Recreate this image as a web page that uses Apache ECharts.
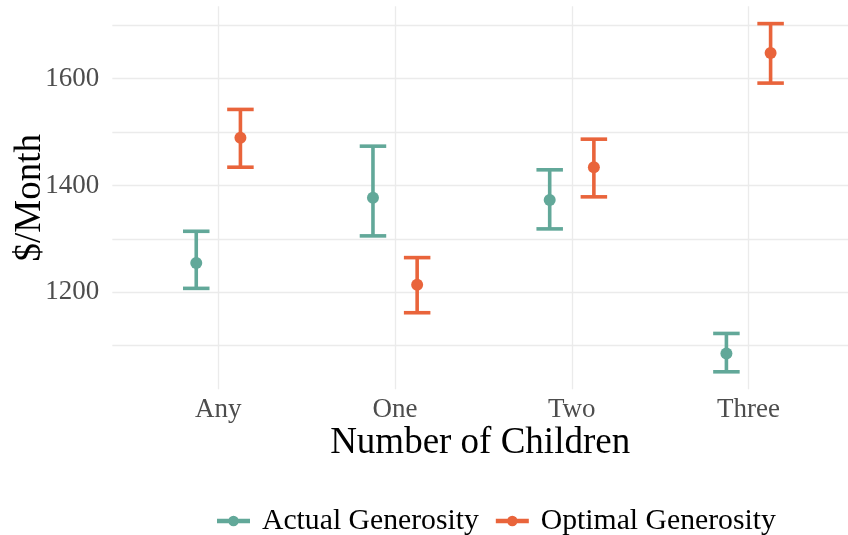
<!DOCTYPE html>
<html><head><meta charset="utf-8">
<script src="https://cdn.jsdelivr.net/npm/echarts@6/dist/echarts.min.js"></script>
<style>html,body{margin:0;padding:0;background:#fff}#c{width:848px;height:535px}</style>
</head><body><div id="c"></div>
<script>
const categories = ['Any', 'One', 'Two', 'Three'];
const seriesNames = ['Actual Generosity', 'Optimal Generosity'];
const actualMean = [1255, 1377, 1373, 1085.5];
const actualLow = [1207.4, 1305.7, 1318.8, 1051.2];
const actualHigh = [1314.3, 1473.7, 1429.4, 1123];
const optimalMean = [1489.4, 1214.3, 1434.3, 1648.1];
const optimalLow = [1434.3, 1161.8, 1378.8, 1591.8];
const optimalHigh = [1542.5, 1265, 1486.8, 1703.2];
const yTickLabels = [1200, 1400, 1600];

const colors = ['#62a899', '#e9643b'];
const FONT = 'Liberation Serif';

function rows(mean, low, high) {
  return categories.map((c, i) => [i, mean[i], low[i], high[i]]);
}

function makeRender(dodge, color) {
  return function (params, api) {
    const x = api.value(0) + dodge;
    const m = api.coord([x, api.value(1)]);
    const lo = api.coord([x, api.value(2)]);
    const hi = api.coord([x, api.value(3)]);
    const capHalf = api.size([0.075, 0])[0];
    const ls = { stroke: color, lineWidth: 3.6, lineCap: 'butt' };
    return {
      type: 'group',
      children: [
        { type: 'line', shape: { x1: m[0], y1: hi[1], x2: m[0], y2: lo[1] }, style: ls },
        { type: 'line', shape: { x1: m[0] - capHalf, y1: hi[1], x2: m[0] + capHalf, y2: hi[1] }, style: ls },
        { type: 'line', shape: { x1: m[0] - capHalf, y1: lo[1], x2: m[0] + capHalf, y2: lo[1] }, style: ls },
        { type: 'circle', shape: { cx: m[0], cy: m[1], r: 6 }, style: { fill: color } }
      ]
    };
  };
}

const legendIcon = 'path://M0,4 L31,4 L31,8 L0,8 Z M10.5,6 A5,5 0 1,1 20.5,6 A5,5 0 1,1 10.5,6 Z';

const chart = echarts.init(document.getElementById('c'), null, { renderer: 'canvas' });
chart.setOption({
  animation: false,
  backgroundColor: '#ffffff',
  textStyle: { fontFamily: FONT },
  grid: { left: 112.3, right: 0, top: 6.2, bottom: 145.8, containLabel: false, outerBoundsMode: 'none' },
  legend: {
    left: 212, top: 501,
    itemWidth: 33, itemHeight: 12, itemGap: 17,
    textStyle: { fontFamily: FONT, fontSize: 29.7, color: '#000', padding: [0, 0, 0, 7] },
    data: seriesNames.map((n, i) => ({ name: n, icon: legendIcon, itemStyle: { color: colors[i] } }))
  },
  xAxis: {
    type: 'value', min: -0.6, max: 3.563, splitNumber: 4,
    name: 'Number of Children', nameLocation: 'middle', nameGap: 36, nameMoveOverlap: false,
    nameTextStyle: { fontFamily: FONT, fontSize: 37, color: '#000' },
    axisLine: { show: false }, axisTick: { show: false },
    axisLabel: {
      fontFamily: FONT, fontSize: 27, color: '#4d4d4d', margin: 7,
      showMinLabel: false, showMaxLabel: false,
      formatter: v => (Number.isInteger(v) && categories[v] !== undefined) ? categories[v] : ''
    },
    splitLine: { show: true, showMinLine: false, showMaxLine: false, lineStyle: { color: '#ebebeb', width: 1.3 } }
  },
  yAxis: {
    type: 'value', min: 1018.6, max: 1735.8, splitNumber: 7,
    name: '$/Month', nameLocation: 'middle', nameGap: 64, nameMoveOverlap: false,
    nameTextStyle: { fontFamily: FONT, fontSize: 37, color: '#000' },
    axisLine: { show: false }, axisTick: { show: false },
    axisLabel: {
      fontFamily: FONT, fontSize: 27, color: '#4d4d4d', margin: 13,
      showMinLabel: false, showMaxLabel: false,
      formatter: v => yTickLabels.includes(v) ? String(v) : ''
    },
    splitLine: { show: true, showMinLine: false, showMaxLine: false, lineStyle: { color: '#ebebeb', width: 1.3 } }
  },
  series: [
    {
      name: seriesNames[0], type: 'custom', clip: false,
      itemStyle: { color: colors[0] },
      renderItem: makeRender(-0.125, colors[0]),
      encode: { x: 0, y: [1, 2, 3] },
      data: rows(actualMean, actualLow, actualHigh)
    },
    {
      name: seriesNames[1], type: 'custom', clip: false,
      itemStyle: { color: colors[1] },
      renderItem: makeRender(0.125, colors[1]),
      encode: { x: 0, y: [1, 2, 3] },
      data: rows(optimalMean, optimalLow, optimalHigh)
    }
  ]
});
</script></body></html>
